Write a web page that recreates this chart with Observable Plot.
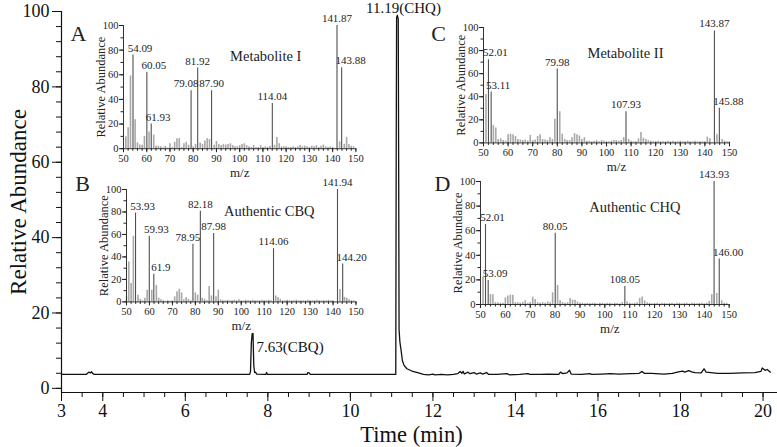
<!DOCTYPE html>
<html><head><meta charset="utf-8">
<script src="https://cdn.jsdelivr.net/npm/d3@7"></script>
<script src="https://cdn.jsdelivr.net/npm/@observablehq/plot@0.6"></script>
<style>
body{margin:0;background:#fff;}
#chart{position:relative;width:777px;height:447px;overflow:hidden;background:#fff;}
#chart svg{position:absolute;overflow:visible;max-width:none;}
</style></head><body><div id="chart"></div>
<script>
// ---------- main chromatogram ----------
const timeMin = [3.00,3.60,3.63,3.66,3.70,3.73,3.76,3.80,7.56,7.58,7.60,7.62,7.63,7.64,7.66,7.68,7.70,7.73,7.95,7.97,7.99,8.95,8.97,9.00,9.03,
 11.10,11.11,11.12,11.14,11.16,11.17,11.18,11.20,11.23,11.26,11.30,11.37,11.49,11.65,11.77,
 11.90,12.00,12.05,12.20,12.35,12.50,12.60,12.66,12.70,12.73,12.76,12.85,12.90,13.00,13.05,13.15,13.20,13.30,13.35,13.55,13.80,13.85,
 14.10,14.30,14.35,14.60,14.80,15.05,15.09,15.15,15.25,15.31,15.35,15.60,15.80,15.85,16.10,16.30,16.50,16.80,17.00,17.07,17.12,17.30,
 17.60,17.80,17.95,18.05,18.10,18.20,18.27,18.35,18.50,18.57,18.62,18.90,19.20,19.50,19.80,19.95,19.98,20.05,20.10,20.18];
const abundance = [3.7,3.7,4.0,4.3,4.1,4.4,3.9,3.7,3.7,4.5,12.0,14.5,13.8,14.6,6.0,4.2,4.3,3.8,3.7,4.2,3.7,3.7,4.2,4.1,3.7,
 3.7,60,98.5,99,98,60,15.6,12.3,10,7.4,6.1,5.2,4.6,4.1,3.7,
 3.6,3.8,3.6,3.7,3.6,3.7,3.9,4.5,4.0,4.5,3.8,4.3,3.9,4.2,3.8,4.1,3.8,4.2,3.7,3.7,3.9,3.6,
 3.7,3.9,3.7,3.7,3.8,3.7,4.3,3.9,4.1,4.8,3.8,3.7,3.9,3.7,3.8,3.9,3.8,3.9,4.0,4.5,4.0,4.0,
 3.8,4.0,4.4,4.6,4.3,4.7,4.4,4.2,4.1,5.2,4.3,4.0,4.0,4.1,4.2,4.5,5.4,4.8,5.0,4.3];
const peakTimes = [7.63, 11.19];
const peakNames = ["CBQ", "CHQ"];
const xTickLabels = [3,4,6,8,10,12,14,16,18,20];
const yTickLabels = [0,20,40,60,80,100];

// ---------- inset spectra ----------
const mzA = [51,52,53,54.09,55,56,57,58,59,60.05, 61,61.93,63,64,65,66,67,68,69,70, 71,72,73,74,75,76,77,78,79.08,80,
 81,81.92,83,84,85,86,87,87.90,89,90, 91,92,93,94,95,96,97,98,99,100,101,102,103,104,105,106,107,108,109,110,111,112,113,
 114.04, 115,116,117,118,119,120,121,122,123,124,125,126,127,128,129,130,131,132,133,134,135,136,137,138,139,140,
 141.87, 143,143.88,145,146,147,148,149];
const abA = [9.6,17,59,76,23.5,4.7,3,2.8,10,62, 13.6,20,11,2,2,1.5,0.5,2,0.5,4, 1,5.2,8,8.2,1,4,5.2,2.8,47,1.5,
 3.5,65.5,4.7,3.5,6.2,8,7.5,47,2.8,5.8, 3.5,2.5,3.5,3,3.5,4,2.5,1.5,1.5,2.5,3.5,4,2.5,1.5,1,2.5,1,1,2.5,1,1.5,1,2,
 36.6, 2.8,9,4,1.5,1.5,1.5,1,1,1.5,1,1.5,2.5,1.5,2,1.5,1,2,1.5,2.5,1,2,3,1.5,1,1.5,1,
 100, 5.5,65.8,3.5,9,3.5,2,1.5];
const peaksA = ["54.09","60.05","61.93","79.08","81.92","87.90","114.04","141.87","143.88"];

const mzB = [50,51,52,53,53.93,55,56,57,58,59, 59.93,61,61.9,63,64,65,66,67,68,69, 70,71,72,73,74,75,76,77,78,78.95,
 80,81,82.18,83,84,85,86,87,87.98,89, 90, 91,92,93,94,95,96,97,98,99,100,101,102,103,104,105,106,107,108,109,110,111,112,113,
 114.06, 115,116,117,118,119,120,121,122,123,124,125,126,127,128,129,130,131,132,133,134,135,136,137,138,139,140,
 141.94, 143,144.20,145,146,147,148,149];
const abB = [4.5,35.6,16.3,58.4,79,6,2.3,1,3.3,10.4, 58.4,10.4,24.6,14.6,3.3,1.8,1,0.5,1,0.5, 1,4.5,9,11.3,8,1.8,4,2.3,1,51.3,
 8,6,80.7,3.3,2.3,1,13.6,5.3,60.8,4.5, 10.4, 1.8,1,1,1.5,1,1,1.5,1,2,1,1,1.5,1,1,1.5,1,1,1,1.5,1,1,1.5,1,
 47.4, 5.3,4,2.3,1,1,1.5,1,1,1,1.5,1,1,1,1,1.5,1,1,1,1.5,1,1,1,1,1.5,1,1,
 100, 11,33.7,4,3.3,1.8,1,1];
const peaksB = ["53.93","59.93","61.9","78.95","82.18","87.98","114.06","141.94","144.20"];

const mzC = [51,52.01,53.11,54,55,56,57,58,59,60, 61,62,63,64,65,66,67,68,69,70, 71,72,73,74,75,76,77,78, 79,79.98,
 81,82,83,84,85,86,87,88,89,90, 91,92,93,94,95,96,97,98,99,100,101,102,103,104,105,106,107, 107.93,
 109,110,111,112,113,114,115,116,117,118,119,120,121,122,123,124,125,126,127,128,129,130,131,132,133,134,135,136,137,138,139,140,141,142,
 143.87, 144.9,145.88,147,148,149,150];
const abC = [42,72,44,15,13,3,3.5,2,1.5,7, 7.5,7,5.5,3,2.5,2,2.5,1.5,6.5,2, 2.5,5.5,7,3,2.5,2,4.5,3, 20.5,64,
 27,7.5,3,2,2,4.5,8,7,6,3, 4.5,1.5,1.5,1,1.5,2,1,2,1.5,1,1,1.5,2,2,1.5,2,4.5, 27,
 3,1.5,1,1,3.5,9,4,3,2,1.5,1,1,1.5,1,1,1,1.5,1,1.5,1,1,1.5,1,1,1.5,1,1,1.5,1,1,1,1,5,3.5,
 97, 7,30,3,1.5,1,1];
const peaksC = ["52.01","53.11","79.98","107.93","143.87","145.88"];

const mzD = [51,52.01,53.09,54,55,56,57,58,59,60, 61,62,63,64,65,66,67,68,69,70, 71,72,73,74,75,76,77,78,79, 80.05,
 81,82,83,84,85,86,87,88,89,90,91,92,93,94,95,96,97,98,99,100,101,102,103,104,105,106,107, 108.05,
 109,110,111,112,113,114,115,116,117,118,119,120,121,122,123,124,125,126,127,128,129,130,131,132,133,134,135,136,137,138,139,140,141,142,
 143,143.93,145,146.00,147,148,149];
const abD = [22,65,19.5,8,8,1.5,1.5,1,1,5.4, 7,7.6,7.6,1.5,1.5,1,1.5,3,1,1.5, 6,4,1.5,1,1.5,1,2,1.5,9.5, 58,
 15.4,3,1.5,1,1.5,4.9,3.5,3.5,2,1,1,0.5,1,0.5,1,1,0.5,1,1,0.5,1,1,0.5,1,1,0.5,1.5, 14.6,
 2,1,0.5,1,1.5,5,6,3,1.5,1,0.5,1,1,0.5,1,1,0.5,1,1,0.5,1,1,0.5,1,1,0.5,1,1,0.5,1,1,0.5,1,2.5,
 8,100,9,37,3,1,1];
const peaksD = ["52.01","53.09","80.05","108.05","143.93","146.00"];

const insetXTicks = [50,60,70,80,90,100,110,120,130,140,150];
const insetYTicks = [0,20,40,60,80,100];

// ---------- drawing ----------
const serif = '"Liberation Serif", "Times New Roman", serif';
const root = document.getElementById("chart");
function place(svg, left, top) {
  svg.style.position = "absolute"; svg.style.left = left + "px"; svg.style.top = top + "px";
  root.appendChild(svg);
}

const chroma = timeMin.map((t, i) => ({t, a: abundance[i]}));
const peaks = peakTimes.map((t, i) => {
  const a = d3.max(chroma.filter(d => Math.abs(d.t - t) < 0.1), d => d.a);
  return {t, a, label: t.toFixed(2) + "(" + peakNames[i] + ")"};
});
const yMin = -1.1;

const main = Plot.plot({
  width: 777, height: 447,
  marginLeft: 61, marginRight: 0, marginTop: 11, marginBottom: 55,
  x: {domain: [3, 20.35]},
  y: {domain: [yMin, 100]},
  style: {fontFamily: serif, fontSize: "18px", color: "#111", background: "transparent", overflow: "visible"},
  marks: [
    Plot.axisY(yTickLabels, {tickSize: 9, tickPadding: 3, label: null}),
    Plot.axisY(d3.range(0, 101, 4), {tickSize: 5, text: null, label: null}),
    Plot.axisX(xTickLabels, {tickSize: 9, tickPadding: 3, label: null}),
    Plot.axisX(d3.range(3, 20.01, 0.5), {tickSize: 5, text: null, label: null}),
    Plot.ruleX([3], {stroke: "#111", strokeWidth: 1.2}),
    Plot.ruleY([yMin], {stroke: "#111", strokeWidth: 1.2}),
    Plot.line(chroma, {x: "t", y: "a", stroke: "#111", strokeWidth: 1.3}),
    Plot.text([peaks[0]], {x: "t", y: d => d.a * 0.75, text: "label", textAnchor: "start", dx: 4, fontSize: 15}),
    Plot.text([peaks[1]], {x: "t", y: "a", text: "label", dx: 4, dy: -7, fontSize: 15}),
    Plot.text(["Relative Abundance"], {frameAnchor: "left", rotate: -90, textAnchor: "middle", lineAnchor: "middle", dx: -43, fontSize: 23}),
    Plot.text(["Time (min)"], {frameAnchor: "bottom", textAnchor: "middle", lineAnchor: "middle", dx: -8, dy: 42, fontSize: 22.5})
  ]
});
place(main, 0, 0);

function inset(p) {
  const rows = p.mz.map((m, i) => ({mz: m, ab: p.ab[i], peak: p.peaks.some(s => +s === m)}));
  const labs = p.peaks.map((s, i) => {
    const r = rows.find(d => d.mz === +s);
    let dx = 0;
    if (i === p.peaks.length - 1) dx = 9;
    else if (+s < 63) dx = 7;
    else if (p.leftShift && p.leftShift.includes(s)) dx = -5;
    return {mz: +s, ab: r ? r.ab : 0, text: s, dx};
  });
  const mL = 60, mR = 24, mT = 18, mB = 36;
  const W = p.pos.x150 - p.pos.x50 + mL + mR, H = p.pos.y0 - p.pos.y100 + mT + mB;
  const svg = Plot.plot({
    width: W, height: H, marginLeft: mL, marginRight: mR, marginTop: mT, marginBottom: mB,
    x: {domain: [50, 150]}, y: {domain: [0, 100]},
    style: {fontFamily: serif, fontSize: "10.5px", color: "#222", background: "transparent", overflow: "visible"},
    marks: [
      Plot.ruleX(rows.filter(d => !d.peak), {x: "mz", y1: 0, y2: "ab", stroke: "#a8a8a8", strokeWidth: 1.6}),
      Plot.ruleX(rows.filter(d => d.peak), {x: "mz", y1: 0, y2: "ab", stroke: "#505050", strokeWidth: 1.1}),
      Plot.ruleY([0], {stroke: "#333"}),
      Plot.ruleX([50], {stroke: "#333"}),
      Plot.axisX(insetXTicks, {tickSize: 4, tickPadding: 2, label: null}),
      Plot.axisX(d3.range(50, 151, 2), {tickSize: 2.5, text: null, label: null}),
      Plot.axisY(insetYTicks, {tickSize: 4, tickPadding: 1, label: null}),
      Plot.axisY(d3.range(0, 101, 10), {tickSize: 2.5, text: null, label: null}),
      ...labs.map(l => Plot.text([l], {x: "mz", y: "ab", text: "text", dx: l.dx, dy: -7, fontSize: 11, fill: "#222"})),
      Plot.text(["Relative Abundance"], {frameAnchor: "left", rotate: -90, textAnchor: "middle", lineAnchor: "middle", dx: -23, fontSize: 12.5}),
      Plot.text(["m/z"], {frameAnchor: "bottom", textAnchor: "middle", lineAnchor: "middle", dx: p.mzDx, dy: 24, fontSize: 13}),
      Plot.text([p.name], {frameAnchor: "top", textAnchor: "middle", lineAnchor: "middle", dx: p.nameDx, dy: p.nameDy, fontSize: 14.5}),
      Plot.text([p.letter], {frameAnchor: "top-left", dx: p.letterDx, dy: p.letterDy, fontSize: 22, textAnchor: "middle", lineAnchor: "middle"})
    ]
  });
  place(svg, p.pos.x50 - mL, p.pos.y100 - mT);
}

inset({mz: mzA, ab: abA, peaks: peaksA, name: "Metabolite I", letter: "A", leftShift: ["79.08"],
  pos: {x50: 122.8, x150: 355.2, y0: 148.5, y100: 25.3}, nameDx: 26, nameDy: 31, letterDx: -45, letterDy: 8, mzDx: 0});
inset({mz: mzB, ab: abB, peaks: peaksB, name: "Authentic CBQ", letter: "B", leftShift: ["78.95"],
  pos: {x50: 126.3, x150: 355.8, y0: 301.7, y100: 189.3}, nameDx: 28, nameDy: 22, letterDx: -44, letterDy: -6, mzDx: 0});
inset({mz: mzC, ab: abC, peaks: peaksC, name: "Metabolite II", letter: "C", leftShift: [],
  pos: {x50: 483.4, x150: 729.4, y0: 142.7, y100: 27.3}, nameDx: 19, nameDy: 26, letterDx: -45, letterDy: 6, mzDx: 10});
inset({mz: mzD, ab: abD, peaks: peaksD, name: "Authentic CHQ", letter: "D", leftShift: [],
  pos: {x50: 480.3, x150: 729, y0: 304, y100: 181}, nameDx: 30, nameDy: 26, letterDx: -38, letterDy: 2, mzDx: 5});
</script></body></html>
